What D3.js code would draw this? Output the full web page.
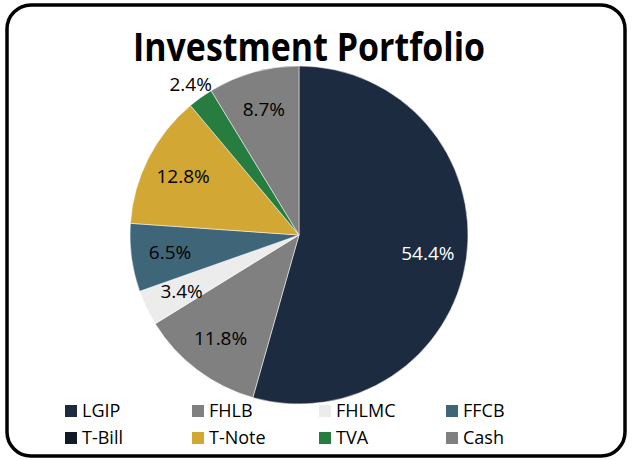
<!DOCTYPE html>
<html>
<head>
<style>
  body { margin: 0; background: #fff; }
  text { font-family: "Open Sans", Lato, sans-serif; }
</style>
</head>
<body>
<script src="https://cdn.jsdelivr.net/npm/d3@7"></script>
<script>
var categories = ["LGIP", "FHLB", "FHLMC", "FFCB", "T-Bill", "T-Note", "TVA", "Cash"];
var values = [54.4, 11.8, 3.4, 6.5, 0, 12.8, 2.4, 8.7];
var colors = ["#1c2b3f", "#808080", "#ececec", "#3f6678", "#111a26", "#d2a733", "#267d3f", "#808080"];

var width = 632, height = 460;
var svg = d3.select("body").append("svg")
  .attr("width", width)
  .attr("height", height);

svg.append("rect")
  .attr("x", 7).attr("y", 5)
  .attr("width", 618).attr("height", 451)
  .attr("rx", 24).attr("ry", 24)
  .attr("fill", "#fff")
  .attr("stroke", "#000")
  .attr("stroke-width", 3.5);

svg.append("text")
  .attr("x", 309).attr("y", 61)
  .attr("text-anchor", "middle")
  .attr("textLength", 352)
  .attr("lengthAdjust", "spacingAndGlyphs")
  .style("font-size", "39px")
  .style("font-weight", "bold")
  .text("Investment Portfolio");

var data = categories.map(function(c, i) { return { name: c, value: values[i], color: colors[i] }; });

var r = 169;
var g = svg.append("g").attr("transform", "translate(299,235)");

var pie = d3.pie().sort(null).value(function(d) { return d.value; });
var arc = d3.arc().innerRadius(0).outerRadius(r);
var arcs = pie(data).filter(function(d) { return d.data.value > 0; });

g.selectAll("path").data(arcs).enter().append("path")
  .attr("d", arc)
  .attr("fill", function(d) { return d.data.color; })
  .attr("stroke", "#fff")
  .attr("stroke-width", 0.5);

g.selectAll("text.lbl").data(arcs).enter().append("text")
  .attr("class", "lbl")
  .attr("transform", function(d) {
    var a = (d.startAngle + d.endAngle) / 2;
    var k = d.data.value < 3 ? 1.1 : 0.77;
    return "translate(" + (Math.sin(a) * r * k) + "," + (-Math.cos(a) * r * k) + ")";
  })
  .attr("text-anchor", "middle")
  .attr("dy", "0.35em")
  .style("font-size", "19px")
  .attr("fill", function(d) { return d.data.name == "LGIP" ? "#fff" : "#000"; })
  .text(function(d) { return d.data.value.toFixed(1) + "%"; });

var legend = svg.append("g");
var item = legend.selectAll("g").data(data).enter().append("g")
  .attr("transform", function(d, i) {
    var col = i % 4, row = Math.floor(i / 4);
    return "translate(" + (65 + col * 127) + "," + (411 + row * 27) + ")";
  });
item.append("rect")
  .attr("x", 0).attr("y", -6)
  .attr("width", 12).attr("height", 12)
  .attr("fill", function(d) { return d.color; });
item.append("text")
  .attr("x", 17).attr("dy", "0.35em")
  .style("font-size", "18px")
  .text(function(d) { return d.name; });
</script>
</body>
</html>
